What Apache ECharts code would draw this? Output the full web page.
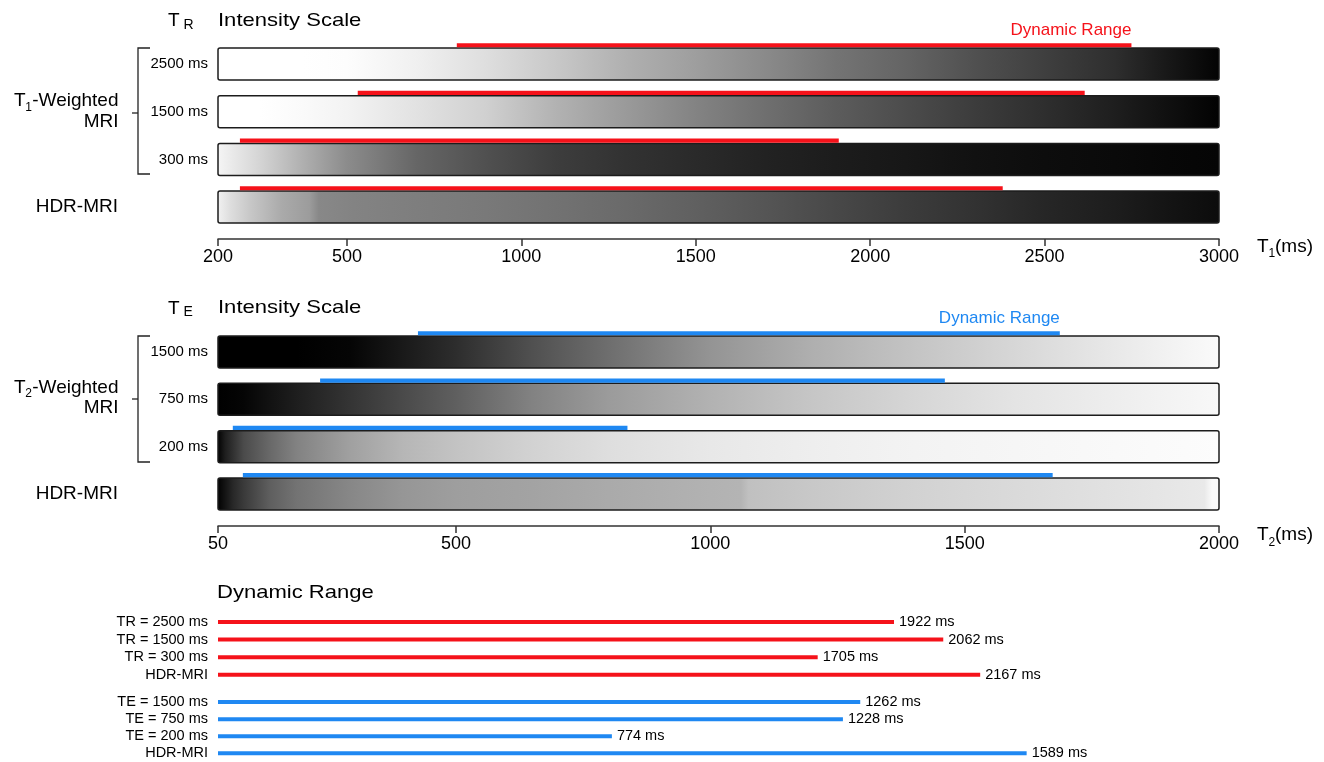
<!DOCTYPE html>
<html><head><meta charset="utf-8">
<script src="https://cdn.jsdelivr.net/npm/echarts@6/dist/echarts.min.js"></script>
<style>html,body{margin:0;padding:0;background:#fff}#c{width:1324px;height:762px}</style>
</head><body><div id="c"></div><script>
// ---------- data ----------
const T1_ROWS = ['2500 ms', '1500 ms', '300 ms', 'HDR-MRI'];
const T2_ROWS = ['1500 ms', '750 ms', '200 ms', 'HDR-MRI'];
const T1_TICKS = [200, 500, 1000, 1500, 2000, 2500, 3000];
const T2_TICKS = [50, 500, 1000, 1500, 2000];

// dynamic range segments drawn above the intensity bars (ms)
const T1_DR_START = [815, 531, 251, 251];
const T1_DR_END = [2749, 2615, 1910, 2380];
const T2_DR_START = [428, 243, 78, 97];
const T2_DR_END = [1687, 1461, 837, 1673];

// dynamic range summary
const DR_TR_LABELS = ['TR = 2500 ms', 'TR = 1500 ms', 'TR = 300 ms', 'HDR-MRI'];
const DR_TR_VALUES = [1922, 2062, 1705, 2167];
const DR_TE_LABELS = ['TE = 1500 ms', 'TE = 750 ms', 'TE = 200 ms', 'HDR-MRI'];
const DR_TE_VALUES = [1262, 1228, 774, 1589];

// intensity profiles (gray level 0-255 at given relaxation time, ms)
const T1_SAMPLES = [200, 300, 400, 500, 700, 900, 1100, 1300, 1500, 1700, 1900, 2100, 2300, 2500, 2700, 2850, 3000];
const T1_GRAY_TR2500 = [255, 255, 255, 253, 240, 222, 200, 176, 158, 138, 116, 100, 80, 63, 46, 24, 3];
const T1_GRAY_TR1500 = [255, 255, 250, 243, 226, 208, 178, 154, 131, 111, 92, 76, 60, 46, 30, 16, 2];
const T1_GRAY_TR300 = [245, 212, 175, 140, 102, 80, 61, 50, 42, 34, 28, 23, 17, 13, 10, 7, 5];
const T1_HDR_SAMPLES = [200, 230, 275, 350, 414, 436, 520, 700, 900, 1100, 1300, 1500, 1700, 1900, 2100, 2300, 2500, 2700, 2850, 3000];
const T1_GRAY_HDR = [242, 222, 200, 170, 156, 136, 131, 126, 121, 114, 106, 96, 85, 72, 60, 50, 38, 29, 20, 12];

const T2_SAMPLES = [50, 100, 150, 200, 300, 400, 500, 650, 800, 1000, 1200, 1400, 1600, 1800, 1900, 2000];
const T2_GRAY_TE1500 = [0, 0, 0, 0, 5, 25, 45, 80, 110, 148, 175, 196, 215, 233, 242, 250];
const T2_GRAY_TE750 = [0, 5, 18, 30, 52, 74, 95, 130, 155, 178, 198, 214, 228, 238, 243, 248];
const T2_TE200_SAMPLES = [50, 65, 100, 150, 200, 300, 400, 500, 650, 800, 1000, 1200, 1400, 1600, 1800, 2000];
const T2_GRAY_TE200 = [0, 30, 75, 105, 130, 160, 182, 195, 210, 222, 232, 238, 243, 246, 249, 252];
const T2_HDR_SAMPLES = [50, 80, 100, 150, 200, 300, 400, 500, 650, 800, 1000, 1060, 1075, 1200, 1400, 1600, 1800, 1970, 1985, 2000];
const T2_GRAY_HDR = [0, 40, 58, 95, 115, 135, 150, 158, 163, 170, 178, 180, 192, 200, 210, 218, 226, 233, 250, 250];

// ---------- styling / axis config ----------
const FONT = 'Liberation Sans, Arial, Helvetica, sans-serif';
const RED = '#f5121a';
const BLUE = '#1f88f2';
const TXT = '#000';
const BAR_H = 32;
const DR_H = 4.2;

// axes are stretched below 500 ms (scale break at the knee)
function makeWarp(knee, stretch) { return v => v >= knee ? v : knee - (knee - v) * stretch; }
const w1 = makeWarp(500, 1.232);
const w2 = makeWarp(500, 1.04);

const T1_PROFILES = [
  {t: T1_SAMPLES, g: T1_GRAY_TR2500},
  {t: T1_SAMPLES, g: T1_GRAY_TR1500},
  {t: T1_SAMPLES, g: T1_GRAY_TR300},
  {t: T1_HDR_SAMPLES, g: T1_GRAY_HDR}
];
const T2_PROFILES = [
  {t: T2_SAMPLES, g: T2_GRAY_TE1500},
  {t: T2_SAMPLES, g: T2_GRAY_TE750},
  {t: T2_TE200_SAMPLES, g: T2_GRAY_TE200},
  {t: T2_HDR_SAMPLES, g: T2_GRAY_HDR}
];

function gray(g) { return 'rgb(' + g + ',' + g + ',' + g + ')'; }

function gradientBars(gi, profiles, warp) {
  return {
    type: 'custom', xAxisIndex: gi, yAxisIndex: gi, silent: true, clip: false, z: 2,
    encode: {x: [0, 1], y: 2},
    data: profiles.map((p, i) => [warp(p.t[0]), warp(p.t[p.t.length - 1]), i]),
    renderItem: (params, api) => {
      const i = params.dataIndex;
      const p = profiles[i];
      const a = api.coord([api.value(0), i]);
      const b = api.coord([api.value(1), i]);
      const w = b[0] - a[0];
      const stops = p.t.map((t, k) => ({
        offset: Math.min(1, Math.max(0, (api.coord([warp(t), i])[0] - a[0]) / w)),
        color: gray(p.g[k])
      }));
      return {
        type: 'rect',
        shape: {x: a[0], y: a[1] - BAR_H / 2, width: w, height: BAR_H, r: 2},
        style: {fill: new echarts.graphic.LinearGradient(0, 0, 1, 0, stops), stroke: '#1c1c1c', lineWidth: 1.5}
      };
    }
  };
}

function rangeLines(gi, starts, ends, warp, color) {
  return {
    type: 'custom', xAxisIndex: gi, yAxisIndex: gi, silent: true, clip: false, z: 3,
    encode: {x: [0, 1], y: 2},
    data: starts.map((s, i) => [warp(s), warp(ends[i]), i]),
    renderItem: (params, api) => {
      const i = params.dataIndex;
      const a = api.coord([api.value(0), i]);
      const b = api.coord([api.value(1), i]);
      const top = a[1] - BAR_H / 2 - 0.7 - DR_H;
      const children = [{
        type: 'rect',
        shape: {x: a[0], y: top, width: b[0] - a[0], height: DR_H},
        style: {fill: color}
      }];
      if (i === 0) {
        children.push({
          type: 'text',
          style: {text: 'Dynamic Range', x: b[0], y: top - 12.5, fill: color, fontSize: 17, fontFamily: FONT,
            align: 'right', textAlign: 'right', verticalAlign: 'middle', textVerticalAlign: 'middle'}
        });
      }
      return {type: 'group', children: children};
    }
  };
}

function warpAxis(gi, warp, ticks, offset) {
  const vals = ticks.map(warp);
  return {
    gridIndex: gi, type: 'value', min: warp(ticks[0]), max: warp(ticks[ticks.length - 1]), offset: offset,
    axisLine: {show: true, lineStyle: {color: '#333', width: 1.5}},
    axisTick: {show: true, length: 7, lineStyle: {color: '#333', width: 1.5}, customValues: vals},
    axisLabel: {
      customValues: vals, showMinLabel: true, showMaxLabel: true, hideOverlap: false,
      fontSize: 18, color: TXT, fontFamily: FONT, margin: 9,
      formatter: v => { const t = ticks.find(tk => Math.abs(warp(tk) - v) < 1e-6); return t === undefined ? '' : String(t); }
    },
    splitLine: {show: false}
  };
}

function rowAxis(gi, rows) {
  return {
    gridIndex: gi, type: 'category', data: rows, inverse: true,
    axisLine: {show: false}, axisTick: {show: false}, splitLine: {show: false},
    axisLabel: {
      fontSize: 15, color: TXT, fontFamily: FONT, margin: 10, interval: 0,
      formatter: (v, idx) => idx === rows.length - 1 ? '{hdr|' + v + '}' : v,
      rich: {hdr: {fontSize: 19, color: TXT, fontFamily: FONT, padding: [0, 90, 0, 0]}}
    }
  };
}

function drAxisY(gi, labels) {
  return {
    gridIndex: gi, type: 'category', data: labels, inverse: true,
    axisLine: {show: false}, axisTick: {show: false},
    axisLabel: {fontSize: 14.5, color: TXT, fontFamily: FONT, margin: 10, interval: 0}
  };
}

function drBars(gi, values, color) {
  return {
    type: 'bar', xAxisIndex: gi, yAxisIndex: gi, data: values, barWidth: 4, silent: true,
    itemStyle: {color: color},
    label: {show: true, position: 'right', distance: 5, formatter: '{c} ms', fontSize: 14.5, color: TXT, fontFamily: FONT}
  };
}

// ---------- decorations (titles, brackets, axis names) ----------
function txt(x, y, text, size, opts) {
  opts = opts || {};
  return {
    type: 'text', x: x, y: y, scaleX: opts.sx || 1, silent: true,
    style: {text: text, x: 0, y: 0, fontSize: size, fontFamily: FONT, fill: opts.fill || TXT,
      align: opts.align || 'left', textAlign: opts.align || 'left',
      verticalAlign: 'middle', textVerticalAlign: 'middle'}
  };
}
function bracket(top, bottom, mid) {
  return [
    {type: 'polyline', silent: true, shape: {points: [[150, top], [138, top], [138, bottom], [150, bottom]]}, style: {stroke: '#222', lineWidth: 1.3, fill: null}},
    {type: 'line', silent: true, shape: {x1: 132, y1: mid, x2: 138, y2: mid}, style: {stroke: '#222', lineWidth: 1.3}}
  ];
}
function weighted(cy, sub) {
  return [
    txt(25.5, cy, 'T', 19, {align: 'right'}),
    txt(25.3, cy + 6.5, sub, 12),
    txt(118.5, cy, '-Weighted', 19, {align: 'right'}),
    txt(118.5, cy + 20.7, 'MRI', 19, {align: 'right'})
  ];
}
function axisName(cy, sub) {
  return [
    txt(1257, cy, 'T', 19),
    txt(1268.6, cy + 7, sub, 12),
    txt(1275, cy, '(ms)', 19)
  ];
}

const graphics = [].concat(
  [txt(168, 21, 'T', 19), txt(183.5, 24.7, 'R', 14), txt(218, 20.5, 'Intensity Scale', 19, {sx: 1.16})],
  [txt(168, 308.7, 'T', 19), txt(183.5, 312.2, 'E', 14), txt(218, 308.2, 'Intensity Scale', 19, {sx: 1.16})],
  [txt(217, 592.5, 'Dynamic Range', 19, {sx: 1.16})],
  bracket(48, 174, 113), bracket(336, 462, 399),
  weighted(101, '1'), weighted(387.3, '2'),
  axisName(247, '1'), axisName(535.2, '2')
);

const chart = echarts.init(document.getElementById('c'), null, {renderer: 'canvas'});
chart.setOption({
  animation: false,
  backgroundColor: '#fff',
  textStyle: {fontFamily: FONT},
  grid: [
    {left: 218, right: 105, top: 40.2, height: 190.7, outerBoundsMode: 'none', containLabel: false},
    {left: 218, right: 105, top: 328.4, height: 189.2, outerBoundsMode: 'none', containLabel: false},
    {left: 218, right: 105, top: 613.2, height: 70.4, outerBoundsMode: 'none', containLabel: false},
    {left: 218, right: 105, top: 693.5, height: 68.4, outerBoundsMode: 'none', containLabel: false}
  ],
  xAxis: [
    warpAxis(0, w1, T1_TICKS, 8),
    warpAxis(1, w2, T2_TICKS, 8.5),
    {gridIndex: 2, type: 'value', min: 0, max: 2846, show: false, splitLine: {show: false}},
    {gridIndex: 3, type: 'value', min: 0, max: 1967, show: false, splitLine: {show: false}}
  ],
  yAxis: [
    rowAxis(0, T1_ROWS),
    rowAxis(1, T2_ROWS),
    drAxisY(2, DR_TR_LABELS),
    drAxisY(3, DR_TE_LABELS)
  ],
  series: [
    gradientBars(0, T1_PROFILES, w1),
    rangeLines(0, T1_DR_START, T1_DR_END, w1, RED),
    gradientBars(1, T2_PROFILES, w2),
    rangeLines(1, T2_DR_START, T2_DR_END, w2, BLUE),
    drBars(2, DR_TR_VALUES, RED),
    drBars(3, DR_TE_VALUES, BLUE)
  ],
  graphic: {elements: graphics}
});
</script></body></html>
